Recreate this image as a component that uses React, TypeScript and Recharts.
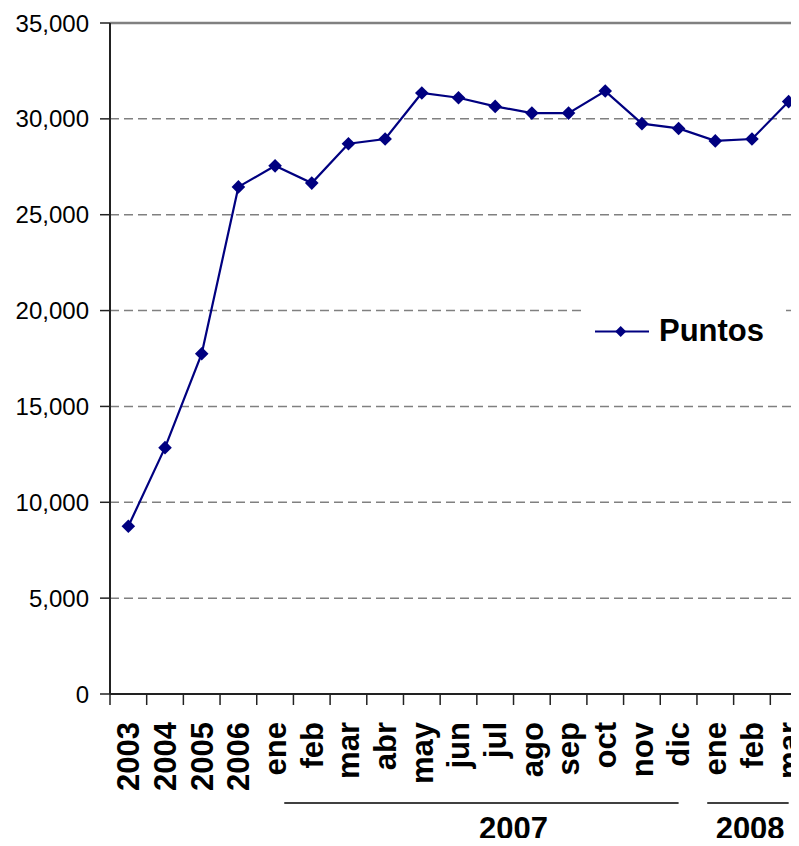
import {
  LineChart,
  Line,
  XAxis,
  YAxis,
  CartesianGrid,
  ReferenceLine,
  Legend,
} from "recharts";

// Category labels (years, then months of 2007 and 2008)
const LABELS = [
  "2003", "2004", "2005", "2006",
  "ene", "feb", "mar", "abr", "may", "jun", "jul", "ago", "sep", "oct", "nov", "dic",
  "ene", "feb", "mar",
];

const PUNTOS = [
  8750, 12850, 17750, 26450,
  27550, 26650, 28700, 28950, 31350, 31100, 30650, 30300, 30300, 31450, 29750, 29500,
  28850, 28950, 30900,
];

const Y_TICKS = [0, 5000, 10000, 15000, 20000, 25000, 30000, 35000];

// Year groups under the month labels (positions in category units)
const YEAR_GROUPS = [
  { label: "2007", to: 15, lineFrom: 4.25, lineTo: 15, labelAt: 10.5 },
  { label: "2008", to: 18, lineFrom: 15.78, lineTo: 18, labelAt: 16.95 },
];

const SERIES_NAME = "Puntos";
const NAVY = "#000080";
const FONT = "'Liberation Sans', Arial, sans-serif";

const CHART_W = 807;
const CHART_H = 846;
const Y_AXIS_W = 110;
const X_AXIS_H = 152;
const AXIS_Y = CHART_H - X_AXIS_H;
const STEP = (CHART_W - Y_AXIS_W) / LABELS.length;

const data = LABELS.map((label, i) => ({
  key: String(i),
  label,
  puntos: PUNTOS[i],
}));

const Diamond = ({ cx, cy, size }: { cx?: number; cy?: number; size: number }) => {
  if (cx == null || cy == null) return null;
  const r = size;
  return (
    <polygon
      points={`${cx},${cy - r} ${cx + r},${cy} ${cx},${cy + r} ${cx - r},${cy}`}
      fill={NAVY}
    />
  );
};

// Rotated category label + boundary tick marks + year group annotations
const CategoryTick = (props: any) => {
  const { x, index } = props;
  const y = AXIS_Y;
  const half = STEP / 2;
  const group = YEAR_GROUPS.find((g) => g.to === index);
  const at = (u: number) => x + (u - index) * STEP;
  return (
    <g>
      <line x1={x - half} y1={y} x2={x - half} y2={y + 11} stroke="#222" strokeWidth={1.5} />
      {index === LABELS.length - 1 && (
        <line x1={x + half} y1={y} x2={x + half} y2={y + 11} stroke="#222" strokeWidth={1.5} />
      )}
      <text
        transform={`translate(${x},${y + 28}) rotate(-90)`}
        textAnchor="end"
        dy="0.35em"
        fontSize={31}
        fontWeight="bold"
        fontFamily={FONT}
        fill="#000"
      >
        {LABELS[index]}
      </text>
      {group && (
        <g>
          <line
            x1={at(group.lineFrom)}
            y1={y + 109}
            x2={at(group.lineTo)}
            y2={y + 109}
            stroke="#000"
            strokeWidth={1.5}
          />
          <text
            x={at(group.labelAt)}
            y={y + 145}
            textAnchor="middle"
            fontSize={31}
            fontWeight="bold"
            fontFamily={FONT}
            fill="#000"
          >
            {group.label}
          </text>
        </g>
      )}
    </g>
  );
};

const LegendBox = () => (
  <div
    style={{
      display: "flex",
      alignItems: "center",
      height: "100%",
      background: "#fff",
      fontFamily: FONT,
    }}
  >
    <svg width={73} height={66} style={{ flexShrink: 0 }}>
      <line x1={9} y1={33.5} x2={63} y2={33.5} stroke={NAVY} strokeWidth={2} />
      <Diamond cx={34.7} cy={33.5} size={5.5} />
    </svg>
    <span style={{ fontSize: 31, fontWeight: "bold", color: "#000" }}>
      {SERIES_NAME}
    </span>
  </div>
);

export default function App() {
  return (
    <div
      style={{
        margin: -8,
        width: 799,
        height: 846,
        overflow: "hidden",
        background: "#fff",
        position: "relative",
      }}
    >
      <LineChart
        width={CHART_W}
        height={CHART_H}
        data={data}
        margin={{ top: 23, right: 0, left: 0, bottom: 0 }}
      >
        <CartesianGrid
          vertical={false}
          stroke="#808080"
          strokeWidth={1.5}
          strokeDasharray="9 5"
        />
        <ReferenceLine y={35000} stroke="#808080" strokeWidth={2.5} />
        <XAxis
          dataKey="key"
          type="category"
          height={X_AXIS_H}
          interval={0}
          padding={{ left: STEP / 2, right: STEP / 2 }}
          axisLine={{ stroke: "#222", strokeWidth: 2 }}
          tickLine={false}
          tickSize={0}
          tickMargin={0}
          tick={<CategoryTick />}
        />
        <YAxis
          width={Y_AXIS_W}
          domain={[0, 35000]}
          ticks={Y_TICKS}
          interval={0}
          tickFormatter={(v: number) => v.toLocaleString("en-US")}
          axisLine={{ stroke: "#222", strokeWidth: 2 }}
          tickLine={{ stroke: "#222", strokeWidth: 1.5 }}
          tickSize={10}
          tickMargin={11}
          tick={{ fontSize: 24, fill: "#000", fontFamily: FONT }}
        />
        <Legend
          layout="vertical"
          align="center"
          verticalAlign="middle"
          content={() => <LegendBox />}
          wrapperStyle={{ left: 586, top: 298, width: 200, height: 66 }}
        />
        <Line
          type="linear"
          dataKey="puntos"
          name={SERIES_NAME}
          stroke={NAVY}
          strokeWidth={2.2}
          dot={(p: any) => <Diamond key={p.index} cx={p.cx} cy={p.cy} size={6.8} />}
          activeDot={false}
          isAnimationActive={false}
        />
      </LineChart>
    </div>
  );
}
